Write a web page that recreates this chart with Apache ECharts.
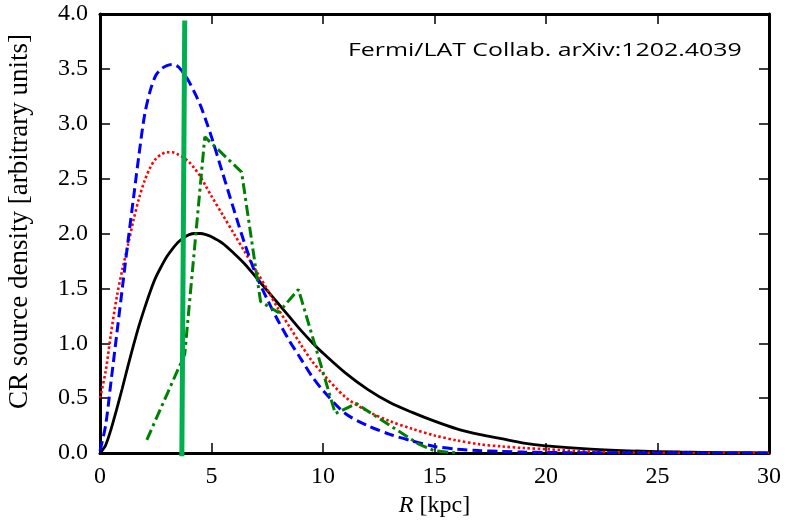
<!DOCTYPE html>
<html><head><meta charset="utf-8">
<script src="https://cdn.jsdelivr.net/npm/echarts@6/dist/echarts.min.js"></script>
<style>html,body{margin:0;padding:0;background:#fff}#c{width:785px;height:528px}</style>
</head><body><div id="c"></div>
<script>
// Galactocentric radius grid (kpc) for the smooth curves
const radius = [0,0.25,0.5,0.75,1,1.25,1.5,1.75,2,2.25,2.5,2.75,3,3.25,3.5,3.75,4,4.25,4.5,4.75,5,5.5,6,6.5,7,7.5,8,8.5,9,9.5,10,11,12,13,14,15,16,17,18,19,20,22,24,26,28,30];
// black solid curve
const blackY = [0,0.07,0.22,0.40,0.59,0.79,0.98,1.16,1.32,1.47,1.60,1.70,1.79,1.86,1.92,1.96,1.99,2.00,2.00,1.99,1.97,1.91,1.82,1.72,1.60,1.48,1.36,1.24,1.12,1.01,0.91,0.73,0.58,0.46,0.37,0.29,0.22,0.17,0.13,0.09,0.065,0.035,0.018,0.009,0.004,0.002];
// blue dashed curve
const blueY = [0.02,0.25,0.66,1.08,1.50,1.92,2.32,2.72,3.08,3.30,3.44,3.50,3.53,3.54,3.52,3.46,3.38,3.28,3.17,3.03,2.88,2.55,2.22,1.90,1.62,1.40,1.20,1.02,0.86,0.70,0.57,0.36,0.25,0.17,0.11,0.06,0.035,0.022,0.014,0.008,0.005,0.002,0.001,0,0,0];
// red dotted curve
const redY = [0.50,0.74,1.10,1.42,1.67,1.89,2.12,2.32,2.48,2.60,2.68,2.72,2.74,2.74,2.72,2.69,2.65,2.59,2.52,2.43,2.34,2.17,2.00,1.83,1.66,1.49,1.31,1.15,0.99,0.84,0.72,0.51,0.38,0.29,0.22,0.16,0.115,0.08,0.06,0.045,0.035,0.012,0.004,0.001,0,0];
// green dash-dot (binned) curve
const greenR = [2.1,3.8,4.7,6.35,7.2,8.0,8.9,10.55,11.5,14.3,15.0,16.0];
const greenY = [0.12,0.90,2.88,2.56,1.38,1.28,1.49,0.36,0.45,0.08,0.02,0.0];
// vertical marker line
const markerR = [3.8,3.67];
const markerY = [3.94,-0.03];
// axis ticks
const xTicks = {min:0, max:30, interval:5};
const yTicks = {min:0, max:4, interval:0.5};
const noteText = 'Fermi/LAT Collab. arXiv:1202.4039';

const serif = '"Liberation Serif", "Times New Roman", serif';
const pairs = (xs, ys) => xs.map((x, i) => [x, ys[i]]);

const axisLine = {show:true, onZero:false, lineStyle:{color:'#000', width:3}};
const axisTick = {show:true, inside:true, length:10, lineStyle:{color:'#000', width:1.5}};
const tickLabel = () => ({show:true, margin:12, fontFamily:serif, fontSize:24, color:'#000'});

const chart = echarts.init(document.getElementById('c'), null, {renderer:'canvas'});
chart.setOption({
  animation:false,
  backgroundColor:'#fff',
  textStyle:{fontFamily:serif, fontSize:24, color:'#000'},
  grid:{left:100, right:16, top:14, bottom:75, containLabel:false, outerBoundsMode:'none'},
  xAxis:[
    {type:'value', position:'bottom', min:xTicks.min, max:xTicks.max, interval:xTicks.interval,
     axisLine, axisTick, splitLine:{show:false},
     axisLabel:tickLabel(),
     name:'{i|R} [kpc]', nameLocation:'middle', nameGap:33,
     nameTextStyle:{fontFamily:serif, fontSize:24, color:'#000',
       rich:{i:{fontFamily:serif, fontSize:24, fontStyle:'italic', color:'#000'}}}},
    {type:'value', position:'top', min:xTicks.min, max:xTicks.max, interval:xTicks.interval,
     axisLine, axisTick, splitLine:{show:false}, axisLabel:{show:false}}
  ],
  yAxis:[
    {type:'value', position:'left', min:yTicks.min, max:yTicks.max, interval:yTicks.interval,
     axisLine, axisTick, splitLine:{show:false},
     axisLabel:Object.assign(tickLabel(), {formatter:v => v.toFixed(1)}),
     name:'CR source density [arbitrary units]', nameLocation:'middle', nameGap:67,
     nameTextStyle:{fontFamily:serif, fontSize:27, color:'#000', padding:[0,0,0,24]}},
    {type:'value', position:'right', min:yTicks.min, max:yTicks.max, interval:yTicks.interval,
     axisLine, axisTick, splitLine:{show:false}, axisLabel:{show:false}}
  ],
  graphic:[
    {type:'text', x:348, y:50.5, scaleX:1.31, z:100,
     style:{text:noteText, fontFamily:'Open Sans', fontSize:19, fontWeight:'normal', fill:'#000',
            align:'left', verticalAlign:'middle', textAlign:'left', textVerticalAlign:'middle'}}
  ],
  series:[
    {type:'line', name:'black', data:pairs(radius, blackY), smooth:0.3, showSymbol:false, z:3,
     lineStyle:{color:'#000', width:2.8}},
    {type:'line', name:'red', data:pairs(radius, redY), smooth:0.3, showSymbol:false, z:4,
     lineStyle:{color:'#ff0000', width:2.6, type:[2.5,2.5]}},
    {type:'line', name:'blue', data:pairs(radius, blueY), smooth:0.3, showSymbol:false, z:5,
     lineStyle:{color:'#0000ff', width:3, type:[10,5]}},
    {type:'line', name:'green', data:pairs(greenR, greenY), smooth:false, showSymbol:false, z:6,
     lineStyle:{color:'#008000', width:3, type:[11,4,3,4]}},
    {type:'line', name:'marker', data:pairs(markerR, markerY), showSymbol:false, clip:false, z:7,
     lineStyle:{color:'#00b050', width:5}}
  ]
});
</script></body></html>
